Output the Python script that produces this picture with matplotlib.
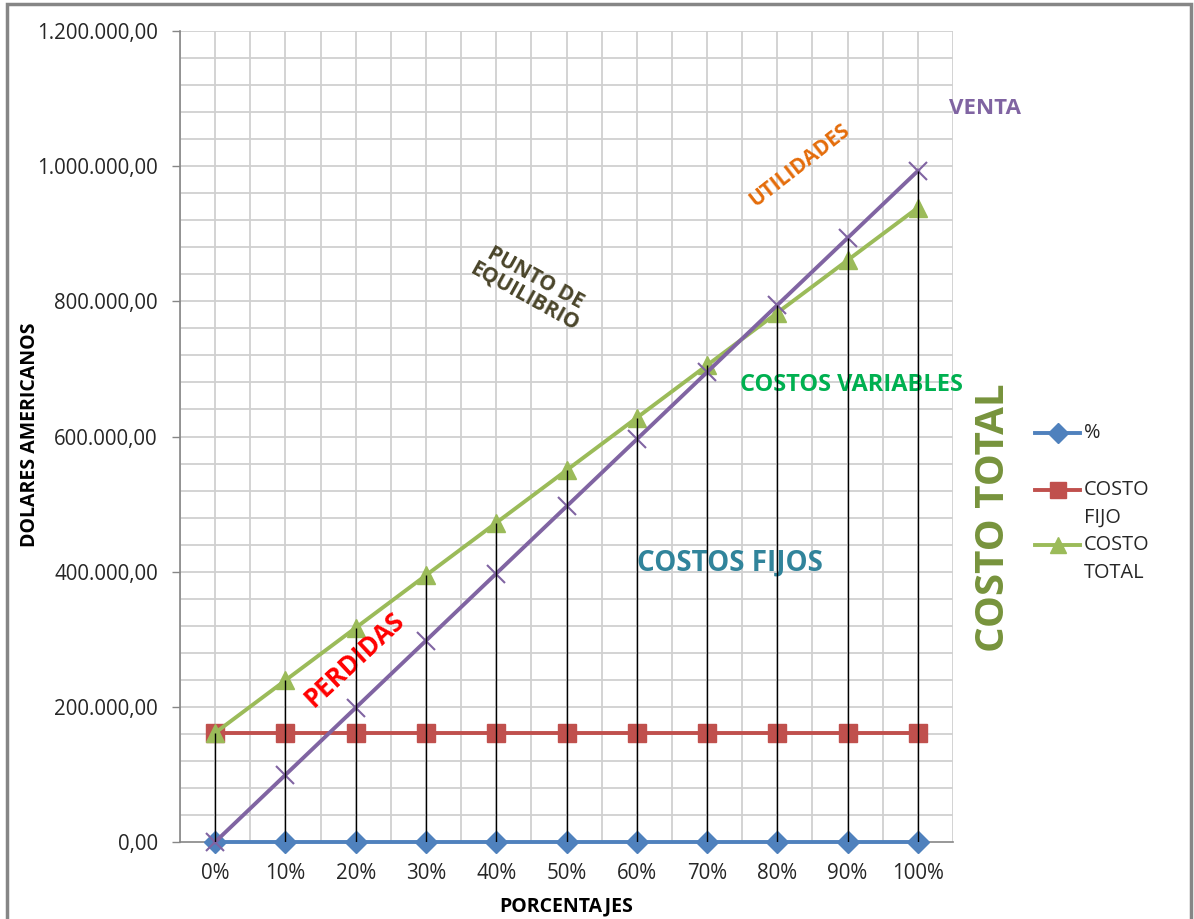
import matplotlib.pyplot as plt
import numpy as np
from matplotlib.lines import Line2D
from matplotlib.patches import Rectangle
from matplotlib.ticker import FuncFormatter, MultipleLocator

plt.rcParams['font.family'] = ['Open Sans', 'DejaVu Sans']

# ---------------- data ----------------
categorias = ["0%", "10%", "20%", "30%", "40%", "50%", "60%", "70%", "80%", "90%", "100%"]
porcentaje = [0.0, 0.1, 0.2, 0.3, 0.4, 0.5, 0.6, 0.7, 0.8, 0.9, 1.0]
costo_fijo = [161500] * 11
costo_total = [161500, 239200, 316900, 394600, 472300, 550000, 627700, 705400, 783100, 860800, 938500]
venta = [0, 99300, 198600, 297900, 397200, 496500, 595800, 695100, 794400, 893700, 993000]

AZUL = "#4F81BD"
ROJO = "#C0504D"
VERDE = "#9BBB59"
MORADO = "#8064A2"
GRIS = "#868686"
GRID = "#D0D0D0"

W, H = 1194, 919
fig = plt.figure(figsize=(W / 100, H / 100), dpi=100)
ax = fig.add_axes([180 / W, 1 - 842 / H, (953 - 180) / W, (842 - 31) / H])

x = np.arange(len(categorias))

# grid: every half category, every 40.000 in y
for gx in np.arange(-0.5, 10.6, 0.5):
    ax.axvline(gx, color=GRID, lw=1.3, zorder=0)
for gy in np.arange(40000, 1200001, 40000):
    ax.axhline(gy, color=GRID, lw=1.3, zorder=0)

ax.plot(x, porcentaje, color=AZUL, lw=2.8, marker="D", ms=11, zorder=3, clip_on=False)
ax.plot(x, costo_fijo, color=ROJO, lw=2.8, marker="s", ms=13, zorder=3)
ax.plot(x, costo_total, color=VERDE, lw=2.8, marker="^", ms=13, zorder=3)
ax.plot(x, venta, color=MORADO, lw=2.8, marker="x", ms=13, mew=1.5, zorder=3, clip_on=False)

# drop lines down from the highest series
tope = np.max([porcentaje, costo_fijo, costo_total, venta], axis=0)
ax.vlines(x, 0, tope, color="black", lw=1.0, zorder=4)

ax.set_xlim(-0.5, 10.5)
ax.set_ylim(0, 1200000)
ax.set_xticks(x)
ax.set_xticklabels(categorias)
ax.yaxis.set_major_locator(MultipleLocator(200000))


def fmt_pesos(v, pos):
    s = "{:,.2f}".format(v)
    return s.replace(",", "X").replace(".", ",").replace("X", ".")


ax.yaxis.set_major_formatter(FuncFormatter(fmt_pesos))
ax.tick_params(axis="x", length=0, pad=15, labelsize=14.8, labelcolor="#262626")
ax.tick_params(axis="y", length=6, width=1, color=GRIS, pad=10, labelsize=14.8, labelcolor="#262626")

for s in ["top", "right"]:
    ax.spines[s].set_visible(False)
for s in ["left", "bottom"]:
    ax.spines[s].set_color(GRIS)
    ax.spines[s].set_linewidth(1.2)

ax.set_xlabel("PORCENTAJES", fontsize=14, fontweight="bold", labelpad=9)
fig.text(30 / W, 1 - 435 / H, "DOLARES AMERICANOS", rotation=90, fontsize=14,
         fontweight="bold", ha="center", va="center")

# annotations inside the chart
ax.text(10.95, 1086000, "VENTA", color=MORADO, fontsize=16, fontweight="bold",
        ha="center", va="center")
ax.text(8.32, 1001700, "UTILIDADES", color="#E46C0A", fontsize=15, fontweight="bold",
        rotation=38, ha="center", va="center", rotation_mode="anchor")
ax.text(4.48, 821200, "PUNTO DE\nEQUILIBRIO", color="#4A452A", fontsize=15,
        fontweight="bold", rotation=-29, ha="center", va="center",
        multialignment="center", rotation_mode="anchor", linespacing=1.0)
ax.text(9.06, 676200, "COSTOS VARIABLES", color="#00B050", fontsize=17,
        fontweight="bold", ha="center", va="center")
ax.text(11.07, 479400, "COSTO TOTAL", color="#77933C", fontsize=29,
        fontweight="bold", rotation=90, ha="center", va="center")
ax.text(7.33, 412800, "COSTOS FIJOS", color="#31849B", fontsize=20,
        fontweight="bold", ha="center", va="center")
ax.text(1.99, 269300, "PERDIDAS", color="#FF0000", fontsize=18.5, fontweight="bold",
        rotation=43, ha="center", va="center", rotation_mode="anchor")

# legend (venta has no entry)
leyenda = [
    (433, AZUL, "D", 10, ["%"]),
    (490, ROJO, "s", 12, ["COSTO", "FIJO"]),
    (545, VERDE, "^", 12, ["COSTO", "TOTAL"]),
]
for py, col, mk, ms, lineas in leyenda:
    yf = 1 - py / H
    fig.add_artist(Line2D([1035 / W, 1080 / W], [yf, yf], color=col, lw=2.8,
                          transform=fig.transFigure))
    fig.add_artist(Line2D([1058 / W], [yf], color=col, marker=mk, ms=ms, lw=0,
                          transform=fig.transFigure))
    for i, t in enumerate(lineas):
        fig.text(1084 / W, 1 - (py + 28 * i) / H, t, fontsize=14.3, color="#262626",
                 ha="left", va="center")

# chart border
fig.add_artist(Rectangle((7 / W, -0.02), (1191 - 7) / W, 1 - 4 / H + 0.02,
                         transform=fig.transFigure, fill=False, edgecolor=GRIS, lw=2.5))

fig.savefig("out.png", dpi=100)
